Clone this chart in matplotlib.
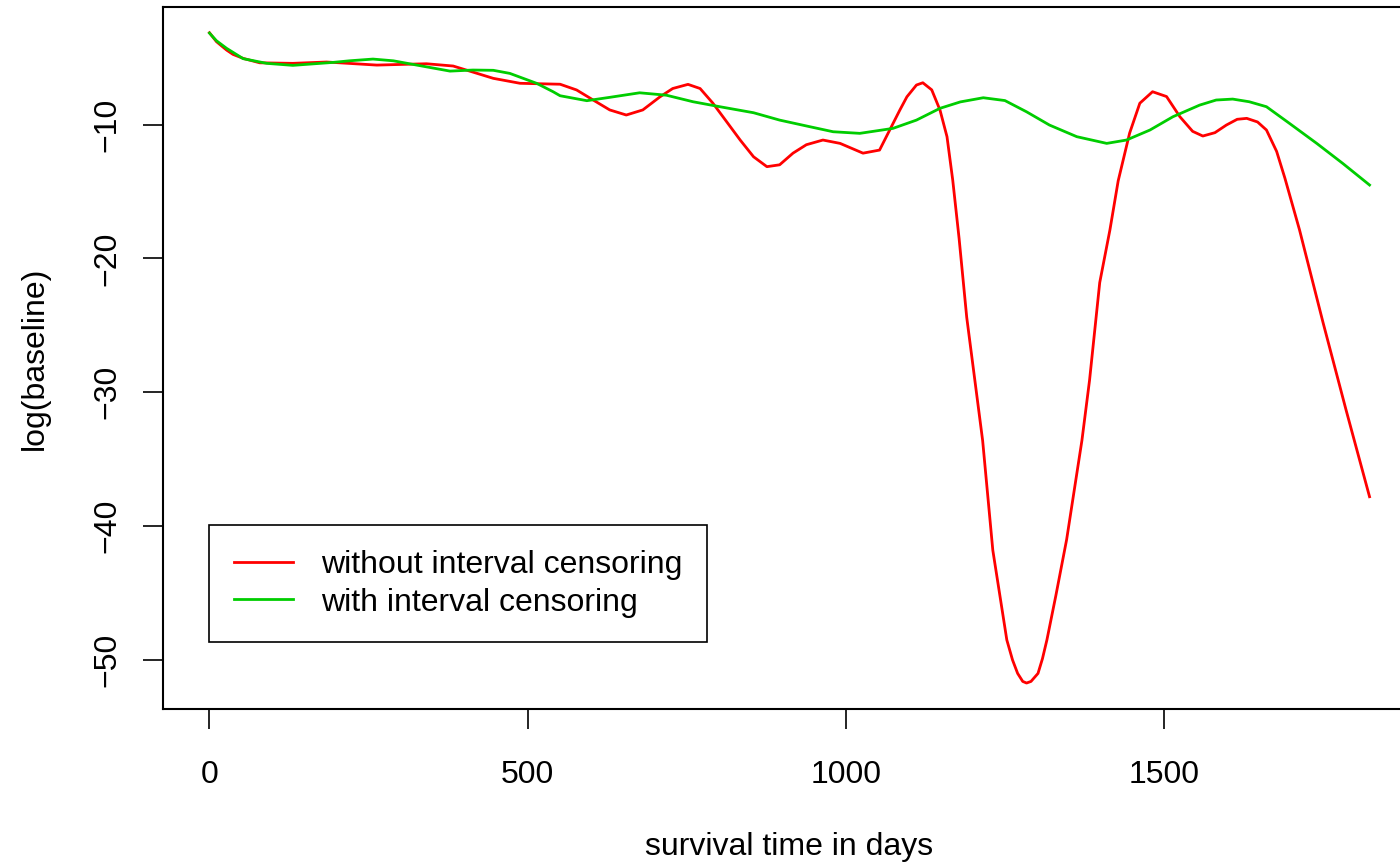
import numpy as np
import matplotlib
matplotlib.use("Agg")
from matplotlib import pyplot as plt

# values
red_days = [0, 11, 27, 37, 53, 79, 131, 184, 263, 341, 383, 446, 488, 551, 577, 603,
            629, 655, 681, 708, 728, 752, 771, 791, 813, 834, 855, 876, 896, 917,
            938, 964, 991, 1027, 1053, 1069, 1085, 1096, 1111, 1121, 1135, 1148,
            1159, 1168, 1178, 1190, 1215, 1231, 1253, 1262, 1270, 1278, 1284, 1291,
            1302, 1309, 1316, 1330, 1347, 1371, 1383, 1399, 1415, 1428, 1446, 1462,
            1482, 1504, 1525, 1545, 1561, 1580, 1598, 1615, 1630, 1647, 1661, 1677,
            1690, 1713, 1750, 1786, 1823]
red_logbase = [-3.13, -3.8, -4.43, -4.75, -5.05, -5.38, -5.42, -5.32, -5.55, -5.45,
               -5.62, -6.54, -6.91, -6.98, -7.41, -8.16, -8.9, -9.28, -8.9, -7.92,
               -7.3, -6.99, -7.3, -8.39, -9.8, -11.15, -12.4, -13.14, -13.0, -12.13,
               -11.5, -11.15, -11.4, -12.13, -11.9, -10.4, -8.9, -7.92, -7.04, -6.87,
               -7.4, -8.91, -10.9, -14.14, -18.5, -24.4, -33.6, -41.8, -48.5, -50.0,
               -51.0, -51.6, -51.72, -51.6, -51.0, -49.9, -48.5, -45.2, -41.0, -33.6,
               -29.1, -21.8, -17.87, -14.2, -10.63, -8.4, -7.54, -7.9, -9.41, -10.5,
               -10.85, -10.6, -10.03, -9.6, -9.53, -9.8, -10.4, -12.0, -14.0, -17.87,
               -24.8, -31.3, -37.8]

green_days = [0, 11, 27, 53, 90, 131, 194, 220, 257, 289, 320, 378, 414, 446, 472,
              514, 540, 551, 593, 629, 676, 718, 760, 802, 855, 896, 944, 980, 1022,
              1074, 1111, 1148, 1180, 1216, 1250, 1284, 1320, 1363, 1410, 1441, 1478,
              1514, 1556, 1582, 1608, 1634, 1661, 1697, 1740, 1781, 1823]
green_logbase = [-3.16, -3.73, -4.3, -5.07, -5.42, -5.57, -5.35, -5.23, -5.1, -5.23,
                 -5.5, -6.0, -5.92, -5.94, -6.17, -6.91, -7.54, -7.84, -8.21, -7.96,
                 -7.62, -7.8, -8.29, -8.66, -9.11, -9.66, -10.16, -10.53, -10.65,
                 -10.28, -9.66, -8.78, -8.3, -7.99, -8.2, -9.04, -10.03, -10.9, -11.4,
                 -11.15, -10.4, -9.41, -8.54, -8.16, -8.09, -8.29, -8.66, -9.9, -11.4,
                 -12.9, -14.51]

labels = ["without interval censoring", "with interval censoring"]
x_ticks = [0, 500, 1000, 1500]
y_ticks = [-10, -20, -30, -40, -50]

plt.rcParams['font.family'] = ['Liberation Sans', 'DejaVu Sans']

fig = plt.figure(figsize=(14, 8.68), dpi=100)
ax = fig.add_axes([163 / 1400, 1 - 709 / 868, 1253 / 1400, 702.4 / 868])

ax.plot(red_days, red_logbase, color='#FF0000', lw=2, label=labels[0])
ax.plot(green_days, green_logbase, color='#00CD00', lw=2, label=labels[1])

ax.set_xlim(-73, 1896)
ax.set_ylim(-53.66, -1.18)
ax.set_xticks(x_ticks)
ax.set_yticks(y_ticks)
ax.set_yticklabels([str(v).replace('-', '\u2212') for v in y_ticks],
                   rotation=90, va='center')
ax.tick_params(axis='both', length=14.4, width=1.2, labelsize=23)
ax.tick_params(axis='x', pad=22)
ax.tick_params(axis='y', pad=15)
for s in ax.spines.values():
    s.set_linewidth(1.5)

fig.text(789.5 / 1400, 1 - 847 / 868, "survival time in days", fontsize=23,
         ha='center', va='center')
fig.text(35 / 1400, 1 - 358 / 868, "log(baseline)", fontsize=23,
         ha='center', va='center', rotation=90)

leg = ax.legend(loc='upper left', bbox_to_anchor=(0.0367, 0.262), borderaxespad=0,
                fontsize=23, frameon=True, fancybox=False, edgecolor='black',
                handlelength=1.85, handletextpad=0.87, borderpad=0.78,
                labelspacing=0.24)
leg.get_frame().set_linewidth(1.2)
leg.get_frame().set_alpha(None)

fig.savefig("out.png", dpi=100)
